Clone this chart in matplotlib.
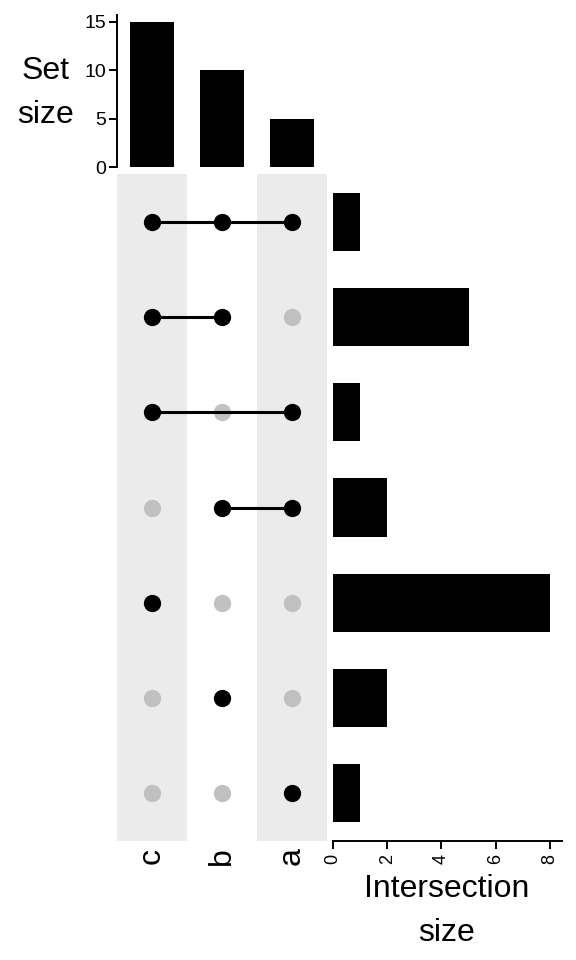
import matplotlib
matplotlib.use('Agg')
import matplotlib.pyplot as plt

# sets (columns, left to right) and their sizes
sets = ['c', 'b', 'a']
set_sizes = [15, 10, 5]

# intersections (rows, top to bottom)
combos = [['c', 'b', 'a'], ['c', 'b'], ['c', 'a'], ['b', 'a'], ['c'], ['b'], ['a']]
combo_sizes = [1, 5, 1, 2, 8, 2, 1]

plt.rcParams['font.family'] = ['Liberation Sans', 'DejaVu Sans']
W, H = 576, 960
fig = plt.figure(figsize=(5.76, 9.6), dpi=100)


def box(x0, y0, x1, y1):
    # pixel box (from top-left) -> figure fraction
    return [x0 / W, 1 - y1 / H, (x1 - x0) / W, (y1 - y0) / H]


ax_top = fig.add_axes(box(117, 15, 327, 167))
ax_mat = fig.add_axes(box(117, 174, 327, 841))
ax_bar = fig.add_axes(box(333, 174, 562, 841))

# set size bars
xs = list(range(len(sets)))
ax_top.bar(xs, set_sizes, width=0.62, color='black')
ax_top.set_xlim(-0.5, len(sets) - 0.5)
ax_top.set_ylim(0, 15.72)
ax_top.set_yticks([0, 5, 10, 15])
for s in ['top', 'right', 'bottom']:
    ax_top.spines[s].set_visible(False)
ax_top.spines['left'].set_linewidth(1.4)
ax_top.set_xticks([])
ax_top.tick_params(axis='y', labelsize=14, length=6, width=1.4, pad=2)
fig.text(46 / W, 1 - 93 / H, 'Set\nsize', fontsize=23, ha='center', va='center',
         linespacing=1.6)

# matrix
for j in xs:
    if j % 2 == 0:
        ax_mat.axvspan(j - 0.5, j + 0.5, color='#EBEBEB', lw=0)
for i, combo in enumerate(combos):
    idx = [sets.index(s) for s in combo]
    others = [j for j in xs if j not in idx]
    ax_mat.scatter(others, [i] * len(others), s=155, color='#C0C0C0', lw=0, zorder=2)
    if len(idx) > 1:
        ax_mat.plot([min(idx), max(idx)], [i, i], color='black', lw=2.2, zorder=3)
    ax_mat.scatter(idx, [i] * len(idx), s=155, color='black', lw=0, zorder=4)
ax_mat.set_xlim(-0.5, len(sets) - 0.5)
ax_mat.set_ylim(len(combos) - 0.5, -0.5)
ax_mat.axis('off')
for j, s in enumerate(sets):
    ax_mat.text(j, 6.66, s, rotation=90, ha='center', va='center', fontsize=23)

# intersection size bars
ax_bar.barh(range(len(combos)), combo_sizes, height=0.61, color='black')
ax_bar.set_ylim(len(combos) - 0.5, -0.5)
ax_bar.set_xlim(0, 8.45)
for s in ['top', 'right', 'left']:
    ax_bar.spines[s].set_visible(False)
ax_bar.spines['bottom'].set_linewidth(1.4)
ax_bar.set_yticks([])
ax_bar.set_xticks([0, 2, 4, 6, 8])
ax_bar.tick_params(axis='x', labelsize=13, length=6, width=1.4, labelrotation=90, pad=3)
fig.text(447 / W, 1 - 911 / H, 'Intersection\nsize', fontsize=23, ha='center',
         va='center', linespacing=1.6)

fig.savefig('out.png', dpi=100)
